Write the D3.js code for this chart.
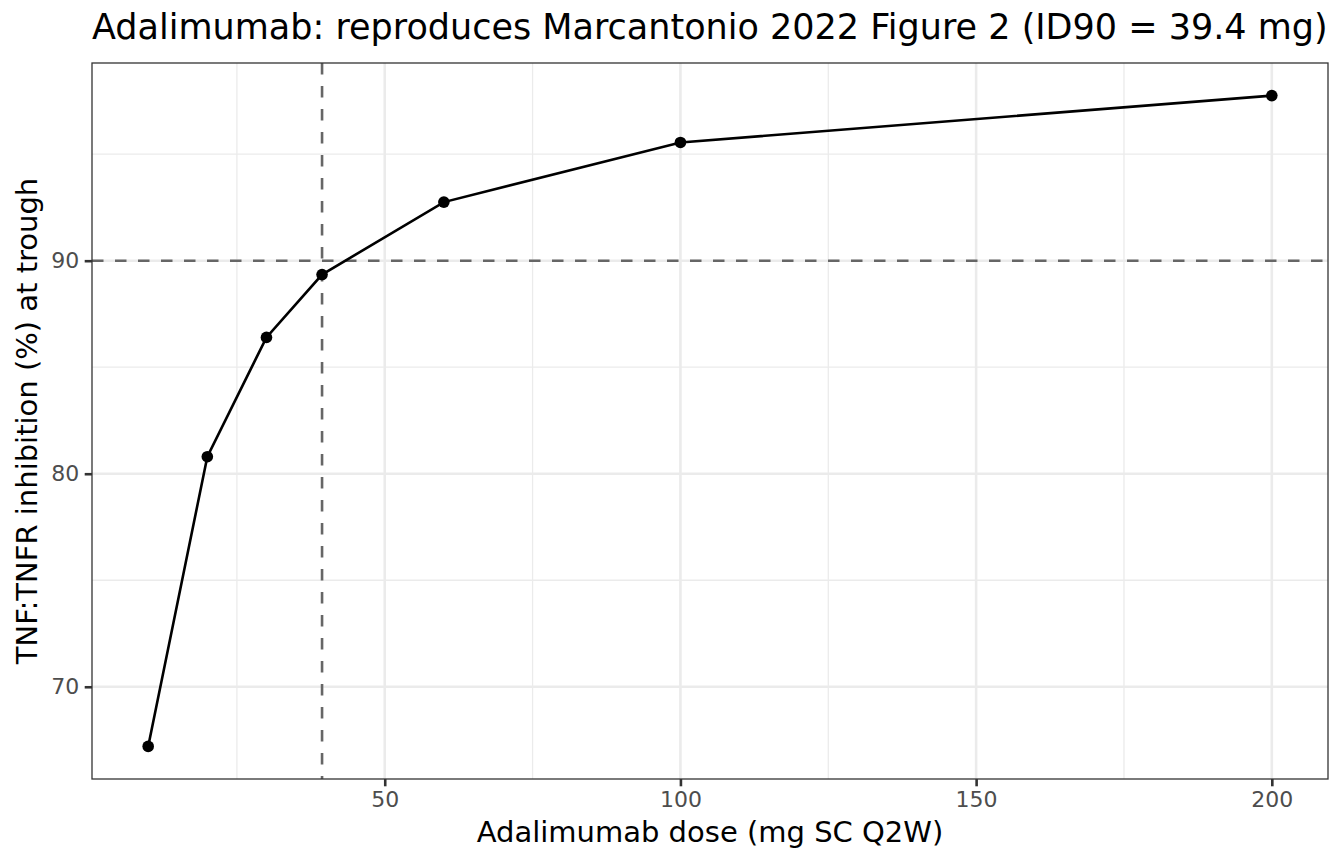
<!DOCTYPE html>
<html><head><meta charset="utf-8">
<script src="https://cdn.jsdelivr.net/npm/d3@7"></script>
<style>body{margin:0;background:#fff}svg{display:block}text{font-family:"DejaVu Sans",sans-serif}</style>
</head><body>
<svg id="c" width="1344" height="864"></svg>
<script>
const doses = [10, 20, 30, 39.4, 60, 100, 200];
const inhibition = [67.2, 80.8, 86.4, 89.35, 92.75, 95.55, 97.75];
const id90 = 39.4;
const target = 90;
const xTicks = [50, 100, 150, 200];
const xMinor = [25, 75, 125, 175];
const yTicks = [70, 80, 90];
const yMinor = [75, 85, 95];
const title = "Adalimumab: reproduces Marcantonio 2022 Figure 2 (ID90 = 39.4 mg)";
const xLabel = "Adalimumab dose (mg SC Q2W)";
const yLabel = "TNF:TNFR inhibition (%) at trough";

const svg = d3.select("#c");
const L = 92, R = 1328, T = 63, B = 779;
const x = d3.scaleLinear().domain([0.5, 209.5]).range([L, R]);
const y = d3.scaleLinear().domain([65.67, 99.28]).range([B, T]);
const LW = 2.6;

const g = svg.append("g");
g.selectAll(".xm").data(xMinor).enter().append("line")
  .attr("x1", d => x(d)).attr("x2", d => x(d)).attr("y1", T).attr("y2", B)
  .attr("stroke", "#ebebeb").attr("stroke-width", LW / 2);
g.selectAll(".ym").data(yMinor).enter().append("line")
  .attr("y1", d => y(d)).attr("y2", d => y(d)).attr("x1", L).attr("x2", R)
  .attr("stroke", "#ebebeb").attr("stroke-width", LW / 2);
g.selectAll(".xM").data(xTicks).enter().append("line")
  .attr("x1", d => x(d)).attr("x2", d => x(d)).attr("y1", T).attr("y2", B)
  .attr("stroke", "#ebebeb").attr("stroke-width", LW);
g.selectAll(".yM").data(yTicks).enter().append("line")
  .attr("y1", d => y(d)).attr("y2", d => y(d)).attr("x1", L).attr("x2", R)
  .attr("stroke", "#ebebeb").attr("stroke-width", LW);

g.append("line").attr("x1", L).attr("x2", R).attr("y1", y(target)).attr("y2", y(target))
  .attr("stroke", "#666666").attr("stroke-width", LW).attr("stroke-dasharray", "11.5,11.5");
g.append("line").attr("x1", x(id90)).attr("x2", x(id90)).attr("y1", T).attr("y2", B)
  .attr("stroke", "#666666").attr("stroke-width", LW).attr("stroke-dasharray", "11.5,11.5");

const data = doses.map((d, i) => ({d, v: inhibition[i]}));
g.append("path").datum(data)
  .attr("d", d3.line().x(p => x(p.d)).y(p => y(p.v)))
  .attr("fill", "none").attr("stroke", "#000").attr("stroke-width", LW);
g.selectAll(".pt").data(data).enter().append("circle")
  .attr("cx", p => x(p.d)).attr("cy", p => y(p.v)).attr("r", 5.8).attr("fill", "#000");

svg.append("rect").attr("x", L).attr("y", T).attr("width", R - L).attr("height", B - T)
  .attr("fill", "none").attr("stroke", "#333333").attr("stroke-width", 1.3);

const xAxis = d3.axisBottom(x).tickValues(xTicks).tickSize(7.3).tickPadding(5.5).tickFormat(d3.format("d"));
const yAxis = d3.axisLeft(y).tickValues(yTicks).tickSize(7.3).tickPadding(5.5).tickFormat(d3.format("d"));
const gx = svg.append("g").attr("transform", `translate(0,${B})`).call(xAxis);
const gy = svg.append("g").attr("transform", `translate(${L},0)`).call(yAxis);
[gx, gy].forEach(a => {
  a.select(".domain").remove();
  a.selectAll(".tick line").attr("stroke", "#333333").attr("stroke-width", LW);
  a.selectAll(".tick text").attr("fill", "#4d4d4d").style("font-size", "22px")
    .style("font-family", "DejaVu Sans");
});

svg.append("text").attr("x", L).attr("y", 39).text(title)
  .style("font-size", "35px").attr("fill", "#000");
svg.append("text").attr("x", (L + R) / 2).attr("y", 842).attr("text-anchor", "middle").text(xLabel)
  .style("font-size", "29px").attr("fill", "#000");
svg.append("text").attr("transform", `translate(37,${(T + B) / 2}) rotate(-90)`)
  .attr("text-anchor", "middle").text(yLabel).style("font-size", "29px").attr("fill", "#000");
</script>
</body></html>
